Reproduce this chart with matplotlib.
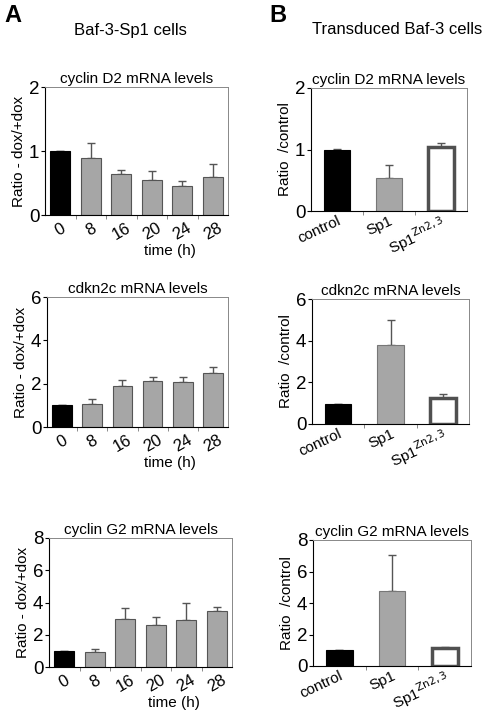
import matplotlib.pyplot as plt

plt.rcParams['font.family'] = ['Liberation Sans', 'DejaVu Sans']

# panel A: Baf-3-Sp1 cells, time course
hours = ['0', '8', '16', '20', '24', '28']
ccnd2_a = [1.0, 0.89, 0.64, 0.55, 0.46, 0.60]
ccnd2_a_err = [0.0, 0.24, 0.07, 0.13, 0.07, 0.20]
cdkn2c_a = [1.0, 1.08, 1.90, 2.13, 2.06, 2.47]
cdkn2c_a_err = [0.0, 0.19, 0.26, 0.20, 0.27, 0.31]
ccng2_a = [1.0, 0.96, 2.99, 2.60, 2.93, 3.45]
ccng2_a_err = [0.0, 0.16, 0.69, 0.52, 1.06, 0.25]

# panel B: transduced Baf-3 cells
constructs = ['control', 'Sp1', r'Sp1$^{\rm Zn2,3}$']
ccnd2_b = [1.0, 0.54, 1.04]
ccnd2_b_err = [0.01, 0.20, 0.06]
cdkn2c_b = [0.95, 3.79, 1.25]
cdkn2c_b_err = [0.02, 1.19, 0.21]
ccng2_b = [1.0, 4.78, 1.17]
ccng2_b_err = [0.03, 2.27, 0.06]

W, H = 498, 714
fig = plt.figure(figsize=(W / 100, H / 100), dpi=100)


def make_ax(l, r, t, b):
    return fig.add_axes([l / W, 1 - b / H, (r - l) / W, (b - t) / H])


def panel(ax, labels, vals, errs, ymax, yticks, title, ylabel, width, mode):
    n = len(vals)
    x = list(range(n))
    if mode == 'A':
        colors = ['black'] + ['#a6a6a6'] * (n - 1)
        edges = ['black'] + ['#555555'] * (n - 1)
        lws = [0.8] * n
    else:
        colors = ['black', '#a6a6a6', 'white']
        edges = ['black', '#777777', '#505050']
        lws = [0.8, 0.8, 2.5]
    ax.bar(x, vals, width=width, color=colors, edgecolor=edges, linewidth=lws, zorder=2)
    ax.errorbar(x, vals, yerr=[[0] * n, errs], fmt='none', ecolor='#555555',
                elinewidth=1, capsize=3, capthick=1, zorder=1)
    ax.set_xlim(-0.5, n - 0.5)
    ax.set_ylim(0, ymax)
    ax.set_yticks(yticks)
    ax.set_yticklabels([str(v) for v in yticks], fontsize=13.5)
    ax.set_xticks(x)
    ax.set_xticks([i + 0.5 for i in range(n - 1)], minor=True)
    ax.tick_params(axis='x', which='major', length=0, pad=4)
    ax.tick_params(axis='x', which='minor', length=3, color='#777777')
    ax.tick_params(axis='y', length=3, pad=1)
    if mode == 'A':
        ax.set_xticklabels(labels, rotation=30, fontsize=12, ha='center')
    else:
        ax.set_xticklabels(labels, rotation=25, fontsize=11, ha='right',
                           rotation_mode='anchor')
        ax.tick_params(axis='x', which='major', pad=2)
    for s in ['top', 'right']:
        ax.spines[s].set_color('#888888')
        ax.spines[s].set_linewidth(0.7)
    ax.set_title(title, fontsize=11, pad=3)
    ax.set_ylabel(ylabel, fontsize=11, labelpad=2)


a1 = make_ax(45, 228, 87, 215)
panel(a1, hours, ccnd2_a, ccnd2_a_err, 2, [0, 1, 2], 'cyclin D2 mRNA levels',
      'Ratio - dox/+dox', 0.65, 'A')
a1.set_xlabel('time (h)', fontsize=11, labelpad=1, x=0.68)

a2 = make_ax(47, 228, 297, 427)
panel(a2, hours, cdkn2c_a, cdkn2c_a_err, 6, [0, 2, 4, 6], 'cdkn2c mRNA levels',
      'Ratio - dox/+dox', 0.65, 'A')
a2.set_xlabel('time (h)', fontsize=11, labelpad=1, x=0.68)

a3 = make_ax(49, 232, 538, 667)
panel(a3, hours, ccng2_a, ccng2_a_err, 8, [0, 2, 4, 6, 8], 'cyclin G2 mRNA levels',
      'Ratio - dox/+dox', 0.65, 'A')
a3.set_xlabel('time (h)', fontsize=11, labelpad=1, x=0.68)

b1 = make_ax(311, 467, 88, 211)
panel(b1, constructs, ccnd2_b, ccnd2_b_err, 2, [0, 1, 2], 'cyclin D2 mRNA levels',
      'Ratio  /control', 0.5, 'B')

b2 = make_ax(312, 469, 299, 424)
panel(b2, constructs, cdkn2c_b, cdkn2c_b_err, 6, [0, 2, 4, 6], 'cdkn2c mRNA levels',
      'Ratio  /control', 0.5, 'B')

b3 = make_ax(313, 471, 540, 666)
panel(b3, constructs, ccng2_b, ccng2_b_err, 8, [0, 2, 4, 6, 8], 'cyclin G2 mRNA levels',
      'Ratio  /control', 0.5, 'B')

fig.text(13 / W, 1 - 16 / H, 'A', fontsize=17, fontweight='bold', va='center', ha='center')
fig.text(130 / W, 1 - 30 / H, 'Baf-3-Sp1 cells', fontsize=12, va='center', ha='center')
fig.text(278 / W, 1 - 16 / H, 'B', fontsize=17, fontweight='bold', va='center', ha='center')
fig.text(397 / W, 1 - 30 / H, 'Transduced Baf-3 cells', fontsize=12, va='center', ha='center')

fig.savefig('out.png', dpi=100)
